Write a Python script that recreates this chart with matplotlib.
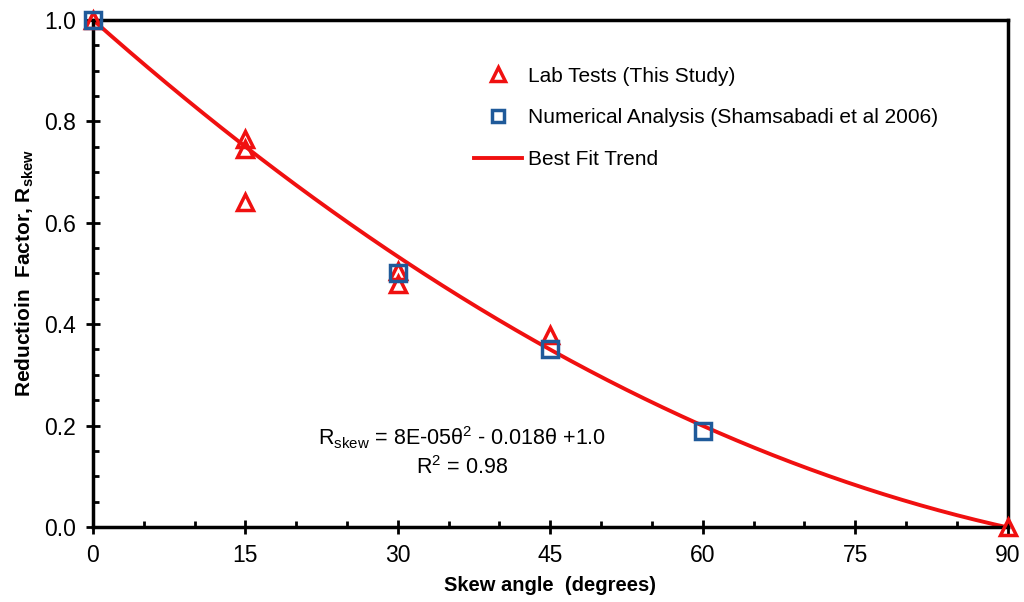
import matplotlib.pyplot as plt
from matplotlib.ticker import MultipleLocator
import numpy as np

plt.rcParams['font.family'] = ['Liberation Sans', 'DejaVu Sans']
plt.rcParams['mathtext.default'] = 'regular'

# lab tests (this study)
lab_angle = [0, 15, 15, 15, 30, 30, 45, 90]
lab_r = [1.0, 0.765, 0.745, 0.64, 0.505, 0.48, 0.378, 0.0]

# numerical analysis (Shamsabadi et al 2006)
num_angle = [0, 30, 45, 60]
num_r = [1.0, 0.5, 0.35, 0.19]

# best fit trend, quadratic coefficients
fit_coef = [7.4e-05, -0.01778, 1.0]

red = '#F01010'
blue = '#1F5A9A'

fig = plt.figure(figsize=(10.24, 6.02), dpi=100)
ax = fig.add_axes([0.0908, 0.1246, 0.8932, 0.8424])

theta = np.linspace(0, 90, 200)
ax.plot(lab_angle, lab_r, linestyle='none', marker='^', markersize=12,
        markerfacecolor='none', markeredgecolor=red, markeredgewidth=2.5,
        label='Lab Tests (This Study)', zorder=3, clip_on=False)
ax.plot(num_angle, num_r, linestyle='none', marker='s', markersize=11,
        markerfacecolor='none', markeredgecolor=blue, markeredgewidth=2.5,
        label='Numerical Analysis (Shamsabadi et al 2006)', zorder=4, clip_on=False)
ax.plot(theta, np.polyval(fit_coef, theta), color=red, linewidth=2.8,
        label='Best Fit Trend', zorder=2)

ax.set_xlim(0, 90)
ax.set_ylim(0, 1.0)
ax.xaxis.set_major_locator(MultipleLocator(15))
ax.xaxis.set_minor_locator(MultipleLocator(5))
ax.yaxis.set_major_locator(MultipleLocator(0.2))
ax.yaxis.set_minor_locator(MultipleLocator(0.05))
ax.yaxis.set_major_formatter(plt.FormatStrFormatter('%.1f'))
ax.tick_params(which='major', direction='inout', length=10, width=2,
               labelsize=16.5, pad=7)
ax.tick_params(which='minor', direction='in', length=4, width=2)
for sp in ax.spines.values():
    sp.set_linewidth(2.5)

ax.set_xlabel('Skew angle  (degrees)', fontsize=14.5, fontweight='bold', labelpad=7)
ax.set_ylabel('Reductioin  Factor, R$_{skew}$', fontsize=15, fontweight='bold', labelpad=6)

ax.text(36.3, 0.148, 'R$_{skew}$ = 8E-05θ$^{2}$ - 0.018θ +1.0\nR$^{2}$ = 0.98',
        ha='center', va='center', fontsize=15.5, linespacing=1.25)

leg = ax.legend(loc='upper left', bbox_to_anchor=(0.396, 0.945), frameon=False,
                fontsize=15, handlelength=2.3, labelspacing=1.1, handletextpad=0.3,
                markerscale=0.8)

fig.savefig('out.png', dpi=100)
